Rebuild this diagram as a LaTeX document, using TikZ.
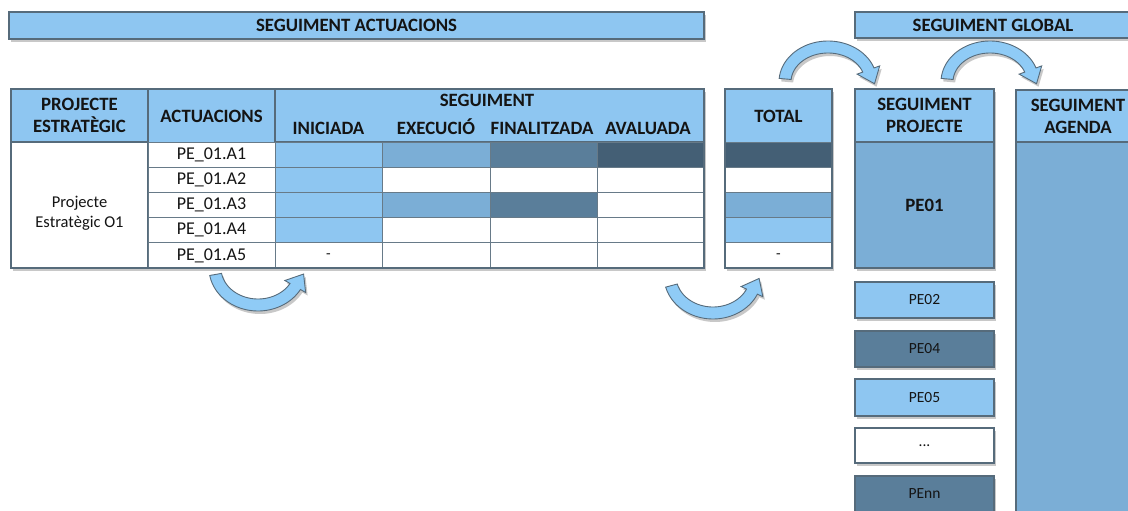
\documentclass[tikz,border=0pt]{standalone}
\usepackage{fontspec}
\setmainfont{Carlito}
\usetikzlibrary{shadows}
\definecolor{lb}{HTML}{8EC6F1}
\definecolor{mb}{HTML}{7BAED6}
\definecolor{db}{HTML}{5A7E9A}
\definecolor{xb}{HTML}{445F75}
\definecolor{bd}{HTML}{566B7B}
\definecolor{ab}{HTML}{8FCBF6}
\definecolor{tx}{HTML}{141414}
\tikzset{
  shad/.style={drop shadow={shadow xshift=2pt,shadow yshift=-3pt,opacity=0.3,fill=black!70}},
  box/.style={draw=bd,line width=1.3pt,inner sep=0pt,outer sep=0pt,text=tx},
  cell/.style={draw=bd!90,line width=0.8pt,inner sep=0pt,outer sep=0pt,minimum height=25.2pt,text=tx,
    font=\fontsize{18}{20}\selectfont},
  hd/.style={font=\fontsize{18.8}{22}\selectfont\bfseries,align=center,text=tx},
  lbl/.style={inner sep=0pt,text=tx},
  sub/.style={lbl,hd,text height=13pt,text depth=4pt},
  small/.style={box,shad,minimum width=139pt,font=\fontsize{15.5}{17}\selectfont},
  arrowst/.style={fill=ab,draw=bd,line width=0.9pt,shad}
}
\newcommand{\bendarrow}[7]{%
  \pgfmathsetmacro\bax{-(#7)*(#3)*sin(#6)}%
  \pgfmathsetmacro\bay{(#7)*(#4)*cos(#6)}%
  \pgfmathsetmacro\ban{veclen(\bax,\bay)}%
  \pgfmathsetmacro\btx{#1+(#3)*cos(#6)+15*\bax/\ban}%
  \pgfmathsetmacro\bty{#2+(#4)*sin(#6)+15*\bay/\ban}%
  \filldraw[arrowst] plot[domain=#5:#6,samples=40] ({#1+(#3+6)*cos(\x)},{#2+(#4+6)*sin(\x)})
    -- ({#1+(#3+12)*cos(#6)},{#2+(#4+12)*sin(#6)})
    -- (\btx,\bty)
    -- ({#1+(#3-12)*cos(#6)},{#2+(#4-12)*sin(#6)})
    -- plot[domain=#6:#5,samples=40] ({#1+(#3-6)*cos(\x)},{#2+(#4-6)*sin(\x)}) -- cycle;
}
\begin{document}
\begin{tikzpicture}[x=1pt,y=-1pt]
\useasboundingbox (0,0) rectangle (1128,511);
\clip (0,0) rectangle (1128,511);
\fill[white] (0,0) rectangle (1128,511);

% top bars
\node[box,shad,fill=lb,minimum width=695pt,minimum height=27pt,hd] (barA) at (356.5,25.5) {SEGUIMENT ACTUACIONS};
\node[box,shad,fill=lb,minimum width=276pt,minimum height=26pt,hd] (barG) at (993,25) {SEGUIMENT GLOBAL};

% main table background
\path[fill=white,shad] (11,89) rectangle (704,268);
\node[box,fill=lb,minimum width=137pt,minimum height=53pt,hd] (hP) at (79.5,115.5) {PROJECTE\\ESTRATÈGIC};
\node[box,fill=lb,minimum width=127pt,minimum height=53pt,hd] (hA) at (211.5,116) {ACTUACIONS};
\node[box,fill=lb,minimum width=429pt,minimum height=53pt] (hS) at (489.5,115.5) {};
\node[sub] (tS) at (487,102) {SEGUIMENT};
\node[sub] (tI) at (328.5,130) {INICIADA};
\node[sub] (tE) at (436,130) {EXECUCIÓ};
\node[sub] (tF) at (542,130) {FINALITZADA};
\node[sub] (tV) at (648,130) {AVALUADA};
\node[box,fill=white,minimum width=137pt,minimum height=126pt] (bP) at (79.5,205) {};
\node[lbl,align=center,font=\fontsize{16.5}{20}\selectfont] (tP) at (79.5,213) {Projecte\\Estratègic O1};

% action cells
\foreach \i/\y in {1/154.6,2/179.8,3/205,4/230.2,5/255.4}{
  \node[cell,fill=white,minimum width=127pt] (a\i) at (211.5,\y) {PE\_01.A\i};
}
% status cells
\foreach \i/\y/\ca/\cb/\cc/\cd in {1/154.6/lb/mb/db/xb,2/179.8/lb/white/white/white,3/205/lb/mb/db/white,4/230.2/lb/white/white/white,5/255.4/white/white/white/white}{
  \node[cell,fill=\ca,minimum width=107pt] (i\i) at (328.5,\y) {};
  \node[cell,fill=\cb,minimum width=108pt] (e\i) at (436,\y) {};
  \node[cell,fill=\cc,minimum width=107pt] (f\i) at (543.5,\y) {};
  \node[cell,fill=\cd,minimum width=107pt] (v\i) at (650.5,\y) {};
}
\node[lbl,font=\fontsize{15}{17}\selectfont] (dashI) at (328.5,256) {-};
\draw[bd,line width=1.3pt] (11,89) rectangle (704,268);

% total column
\path[fill=white,shad] (725,89) rectangle (832,268);
\node[box,fill=lb,minimum width=107pt,minimum height=53pt,hd] (hT) at (778.5,116) {TOTAL};
\foreach \i/\y/\c in {1/154.6/xb,2/179.8/white,3/205/mb,4/230.2/lb,5/255.4/white}{
  \node[cell,fill=\c,minimum width=107pt] (t\i) at (778.5,\y) {};
}
\node[lbl,font=\fontsize{15}{17}\selectfont] (dashT) at (778.5,256) {-};
\draw[bd,line width=1.3pt] (725,89) rectangle (832,268);

% seguiment projecte
\path[fill=white,shad] (855,89) rectangle (994,268);
\node[box,fill=lb,minimum width=139pt,minimum height=53pt,hd] (hPr) at (924.5,115.5) {SEGUIMENT\\PROJECTE};
\node[box,fill=mb,minimum width=139pt,minimum height=126pt,hd] (pe01) at (924.5,205) {PE01};

% seguiment agenda
\path[fill=white,shad] (1016,89) rectangle (1140,520);
\node[box,fill=lb,minimum width=124pt,minimum height=53pt,hd,text width=120pt] (hAg) at (1078,116.5) {SEGUIMENT\\AGENDA};
\node[box,fill=mb,minimum width=124pt,minimum height=378pt] (bAg) at (1078,331) {};

% small project boxes
\node[small,fill=lb,minimum height=36pt] (pe02) at (924.5,300) {PE02};
\node[small,fill=db,minimum height=36pt] (pe04) at (924.5,349) {PE04};
\node[small,fill=lb,minimum height=37pt] (pe05) at (924.5,397.5) {PE05};
\node[small,fill=white,minimum height=35pt] (pedots) at (924.5,445.5) {...};
\node[small,fill=db,minimum height=36pt] (penn) at (924.5,494) {PEnn};

% curved arrows
\bendarrow{258}{268}{43}{37}{170}{30}{-1}
\bendarrow{713}{276}{43}{37}{165}{25}{-1}
\bendarrow{828}{82}{43}{35}{185}{340}{1}
\bendarrow{990}{82}{43}{35}{185}{340}{1}
\end{tikzpicture}
\end{document}
